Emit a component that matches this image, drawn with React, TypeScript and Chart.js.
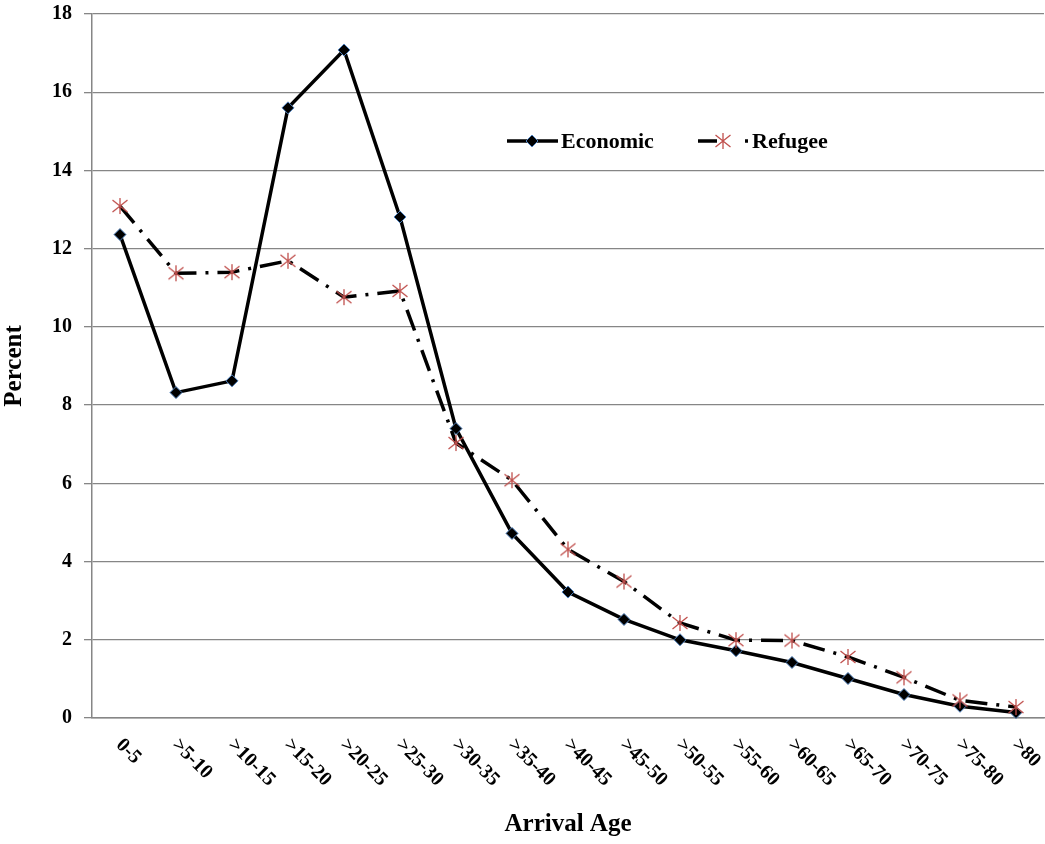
import React, { useEffect, useRef } from "react";
import { Chart, registerables } from "chart.js";

Chart.register(...registerables);

const categories = ["0-5", ">5-10", ">10-15", ">15-20", ">20-25", ">25-30", ">30-35", ">35-40", ">40-45", ">45-50", ">50-55", ">55-60", ">60-65", ">65-70", ">70-75", ">75-80", ">80"];
const economic = [12.36, 8.32, 8.62, 15.6, 17.08, 12.81, 7.4, 4.72, 3.22, 2.52, 2.0, 1.72, 1.42, 1.01, 0.6, 0.3, 0.14];
const refugee = [13.09, 11.37, 11.4, 11.69, 10.76, 10.92, 7.03, 6.08, 4.31, 3.49, 2.43, 1.99, 1.98, 1.56, 1.04, 0.45, 0.28];
const yTicks = { min: 0, max: 18, step: 2 };
const seriesNames = ["Economic", "Refugee"];
const xTitle = "Arrival Age";
const yTitle = "Percent";

const FONT = "'Liberation Serif', 'Times New Roman', serif";
const GRID = "#868686";
const DIAMOND_BORDER = "#4f81bd";
const STAR = "#c0504d";

function makeStar(): HTMLCanvasElement {
  const c = document.createElement("canvas");
  c.width = 18;
  c.height = 18;
  const g = c.getContext("2d")!;
  g.strokeStyle = STAR;
  g.lineWidth = 1.3;
  g.beginPath();
  g.moveTo(9, 1);
  g.lineTo(9, 17);
  g.moveTo(1.5, 3);
  g.lineTo(16.5, 15);
  g.moveTo(1.5, 15);
  g.lineTo(16.5, 3);
  g.stroke();
  return c;
}

export default function App() {
  const ref = useRef<HTMLCanvasElement | null>(null);

  useEffect(() => {
    if (!ref.current) return;
    const star = makeStar();

    const xLabelsPlugin = {
      id: "xLabels",
      afterDraw(chart: any) {
        const { ctx, chartArea } = chart;
        const xs = chart.scales.x;
        ctx.save();
        ctx.fillStyle = "#000";
        ctx.font = `bold 20px ${FONT}`;
        ctx.textAlign = "left";
        ctx.textBaseline = "middle";
        categories.forEach((lab, i) => {
          const x = xs.getPixelForValue(i);
          ctx.save();
          ctx.translate(x - 1, chartArea.bottom + 24);
          ctx.rotate(Math.PI / 4);
          ctx.fillText(lab, 0, 0);
          ctx.restore();
        });
        ctx.restore();
      },
    };

    const legendPlugin = {
      id: "customLegend",
      afterDraw(chart: any) {
        const { ctx } = chart;
        const y = 141;
        ctx.save();
        // Economic
        ctx.strokeStyle = "#000";
        ctx.lineWidth = 3.5;
        ctx.setLineDash([]);
        ctx.beginPath();
        ctx.moveTo(507, y);
        ctx.lineTo(558, y);
        ctx.stroke();
        ctx.beginPath();
        ctx.moveTo(532 - 6, y);
        ctx.lineTo(532, y - 6);
        ctx.lineTo(532 + 6, y);
        ctx.lineTo(532, y + 6);
        ctx.closePath();
        ctx.fillStyle = "#000";
        ctx.fill();
        ctx.strokeStyle = DIAMOND_BORDER;
        ctx.lineWidth = 1;
        ctx.stroke();
        // Refugee
        ctx.strokeStyle = "#000";
        ctx.lineWidth = 3.5;
        ctx.beginPath();
        ctx.moveTo(698, y);
        ctx.lineTo(717, y);
        ctx.moveTo(745, y);
        ctx.lineTo(748, y);
        ctx.stroke();
        ctx.drawImage(star, 723 - 9, y - 9);
        ctx.fillStyle = "#000";
        ctx.font = `bold 22px ${FONT}`;
        ctx.textAlign = "left";
        ctx.textBaseline = "middle";
        ctx.fillText(seriesNames[0], 561, y + 1);
        ctx.fillText(seriesNames[1], 752, y + 1);
        ctx.restore();
      },
    };

    const chart = new Chart(ref.current, {
      type: "line",
      data: {
        labels: categories,
        datasets: [
          {
            label: seriesNames[1],
            data: refugee,
            borderColor: "#000",
            borderWidth: 3.5,
            borderDash: [22, 9, 3, 9],
            borderCapStyle: "butt",
            tension: 0,
            fill: false,
            pointStyle: star as any,
            pointRadius: 9,
            clip: false as any,
          },
          {
            label: seriesNames[0],
            data: economic,
            borderColor: "#000",
            borderWidth: 3.5,
            tension: 0,
            fill: false,
            pointStyle: "rectRot",
            pointRadius: 6,
            pointBackgroundColor: "#000",
            pointBorderColor: DIAMOND_BORDER,
            pointBorderWidth: 1,
            clip: false as any,
          },
        ],
      },
      options: {
        responsive: false,
        animation: false,
        devicePixelRatio: 1,
        layout: { autoPadding: false, padding: { top: 14, right: 1, left: 0, bottom: 0 } },
        plugins: { legend: { display: false }, tooltip: { enabled: false } },
        scales: {
          x: {
            type: "category",
            offset: true,
            grid: { display: false },
            border: { display: true, color: GRID, width: 1.5 },
            ticks: { display: false },
            title: {
              display: true,
              text: xTitle,
              color: "#000",
              font: { family: FONT, size: 25, weight: "bold" },
              padding: { top: 0, bottom: 4 },
            },
            afterFit(scale: any) {
              scale.height = 126;
              scale.paddingLeft = 0;
              scale.paddingRight = 0;
              scale.paddingTop = 0;
              scale.paddingBottom = 0;
            },
          },
          y: {
            min: yTicks.min,
            max: yTicks.max,
            grid: { color: GRID, lineWidth: 1.3, tickLength: 8, drawTicks: true },
            border: { display: true, color: GRID, width: 1.5 },
            ticks: {
              stepSize: yTicks.step,
              color: "#000",
              padding: 12,
              font: { family: FONT, size: 20, weight: "bold" },
            },
            title: {
              display: true,
              text: yTitle,
              color: "#000",
              font: { family: FONT, size: 25, weight: "bold" },
              padding: { top: 0, bottom: 0 },
            },
            afterFit(scale: any) {
              scale.width = 92;
              scale.paddingLeft = 0;
              scale.paddingRight = 0;
              scale.paddingTop = 0;
              scale.paddingBottom = 0;
            },
          },
        },
      },
      plugins: [xLabelsPlugin, legendPlugin],
    });
    return () => chart.destroy();
  }, []);

  return (
    <div style={{ position: "absolute", left: 0, top: 0, width: 1045, height: 844, background: "#fff" }}>
      <canvas ref={ref} width={1045} height={844} />
    </div>
  );
}
